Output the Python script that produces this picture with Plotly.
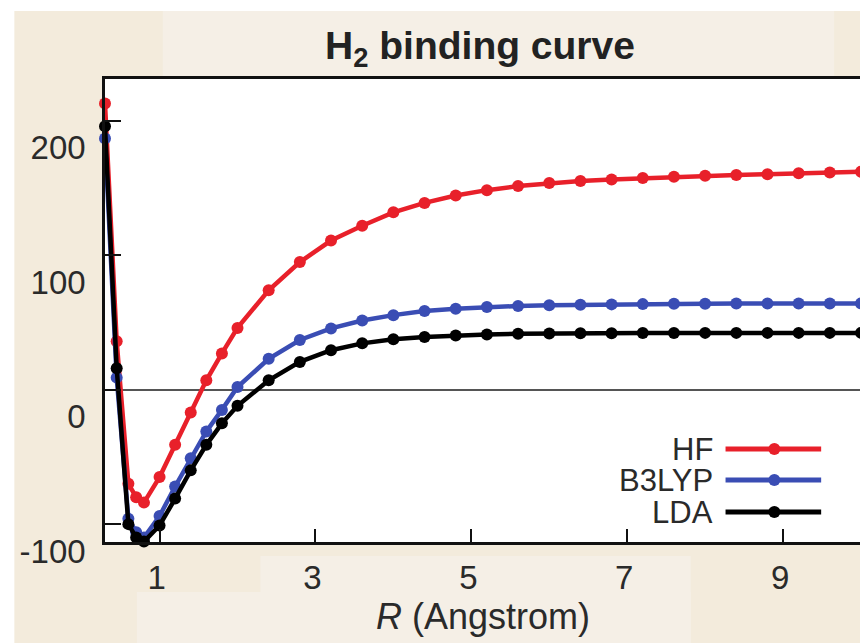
import plotly.graph_objects as go

# ---------------- data ----------------
R = [0.3, 0.45, 0.6, 0.7, 0.8, 1.0, 1.2, 1.4, 1.6, 1.8, 2.0, 2.4, 2.8, 3.2, 3.6,
     4.0, 4.4, 4.8, 5.2, 5.6, 6.0, 6.4, 6.8, 7.2, 7.6, 8.0, 8.4, 8.8, 9.2, 9.6, 10.0]

HF = [213, 36, -70, -80, -84, -65, -41, -17, 7, 27, 46, 74, 95, 111, 122,
      132, 139, 144.5, 148.5, 151.5, 153.8, 155.3, 156.5, 157.5, 158.4, 159.2,
      159.8, 160.4, 161.0, 161.6, 162.2]

B3LYP = [187, 9, -96, -106, -110, -94, -72, -51, -31, -15, 2, 23, 37, 45.6, 51.5,
         55.5, 58.5, 60.3, 61.5, 62.3, 62.8, 63.2, 63.5, 63.7, 63.9, 64.0,
         64.1, 64.2, 64.2, 64.2, 64.2]

LDA = [196, 16, -100, -110, -113, -101, -81, -60, -41, -25, -12, 7, 20.7, 29.4, 34.5,
       37.5, 39.3, 40.4, 41.1, 41.6, 41.9, 42.0, 42.1, 42.2, 42.2, 42.3,
       42.3, 42.3, 42.3, 42.3, 42.3]

SERIES_NAMES = ["HF", "B3LYP", "LDA"]
SERIES_VALUES = [HF, B3LYP, LDA]
SERIES_COLORS = ["#E8202A", "#3A4DB4", "#000000"]

X_TICKS = [1, 3, 5, 7, 9]
Y_TICKS = [-100, 0, 100, 200]

TITLE = "<b>H<sub>2</sub> binding curve</b>"
X_TITLE = "<i>R</i> (Angstrom)"

# ---------------- figure ----------------
W, H = 868, 643
OFF = 8                      # page body margin: the figure starts 8px in
SL, SR, ST, SB = 104, 863, 79, 542   # plot area on screen
PW, PH = SR - SL, SB - ST
L, T = SL - OFF, ST - OFF
RM, B = W - (SR - OFF), H - (SB - OFF)

def px_x(px):
    return (px - SL) / PW

def px_y(py):
    return (SB - py) / PH

FONT = "Liberation Sans, Arial, Helvetica, sans-serif"
BEIGE = "#F3EBDC"
LIGHT = "#F5EFE6"

fig = go.Figure()
for name, vals, col in zip(SERIES_NAMES, SERIES_VALUES, SERIES_COLORS):
    fig.add_trace(go.Scatter(
        x=R, y=vals, name=name, mode="lines+markers",
        line=dict(color=col, width=4.5),
        marker=dict(color=col, size=12),
        cliponaxis=False,
    ))

shapes = []
# thin white border at top / left of the beige background
shapes.append(dict(type="rect", xref="paper", yref="paper",
                   x0=px_x(0), x1=px_x(13), y0=px_y(H + 20), y1=px_y(0),
                   fillcolor="white", line=dict(width=0), layer="below"))
shapes.append(dict(type="rect", xref="paper", yref="paper",
                   x0=px_x(0), x1=px_x(W + 20), y0=px_y(11), y1=px_y(0),
                   fillcolor="white", line=dict(width=0), layer="below"))
# lighter patches behind title and x-axis title
shapes.append(dict(type="rect", xref="paper", yref="paper",
                   x0=px_x(162), x1=px_x(836), y0=px_y(76), y1=px_y(11),
                   fillcolor=LIGHT, line=dict(width=0), layer="below"))
shapes.append(dict(type="rect", xref="paper", yref="paper",
                   x0=px_x(260), x1=px_x(692), y0=px_y(660), y1=px_y(556),
                   fillcolor=LIGHT, line=dict(width=0), layer="below"))
shapes.append(dict(type="rect", xref="paper", yref="paper",
                   x0=px_x(136), x1=px_x(692), y0=px_y(660), y1=px_y(592),
                   fillcolor=LIGHT, line=dict(width=0), layer="below"))

# manual legend: label on the left, line sample with marker on the right
annotations = []
leg_rows = [449, 480, 512]
for name, col, ry in zip(SERIES_NAMES, SERIES_COLORS, leg_rows):
    annotations.append(dict(text=name, xref="paper", yref="paper",
                            x=px_x(716), y=px_y(ry), xanchor="right", yanchor="middle",
                            showarrow=False, font=dict(size=31, color="#2a2a2a", family=FONT)))
    shapes.append(dict(type="line", xref="paper", yref="paper",
                       x0=px_x(727), x1=px_x(823), y0=px_y(ry), y1=px_y(ry),
                       line=dict(color=col, width=5)))
    shapes.append(dict(type="circle", xref="paper", yref="paper",
                       xsizemode="pixel", ysizemode="pixel",
                       xanchor=px_x(776), yanchor=px_y(ry),
                       x0=-6, x1=6, y0=-6, y1=6,
                       fillcolor=col, line=dict(width=0)))

fig.update_layout(
    width=W, height=H,
    margin=dict(l=L, r=RM, t=T, b=B, pad=0),
    paper_bgcolor=BEIGE, plot_bgcolor="white",
    showlegend=False,
    font=dict(family=FONT, color="#2a2a2a"),
    title=dict(text=TITLE, xref="container", x=(480 - OFF) / W, xanchor="center",
               yref="container", y=1 - (45 - OFF) / H, yanchor="middle",
               font=dict(size=39, color="#222222", family=FONT)),
    shapes=shapes,
    annotations=annotations,
)

fig.update_xaxes(
    range=[0.3, 10.0], tickvals=X_TICKS, ticktext=[str(v) for v in X_TICKS],
    ticks="inside", ticklen=13, tickwidth=2, tickcolor="#111",
    showline=True, linecolor="#111", linewidth=2.5, mirror=True,
    showgrid=False, zeroline=False,
    tickfont=dict(size=33, color="#2a2a2a"), ticklabelstandoff=5, ticklabelshift=-3,
    title=dict(text=X_TITLE, font=dict(size=36, color="#2a2a2a"), standoff=4),
)
fig.update_yaxes(
    range=[-113.3, 231.2], tickvals=Y_TICKS, ticktext=[str(v) for v in Y_TICKS],
    ticks="inside", ticklen=16, tickwidth=2, tickcolor="#111",
    showline=True, linecolor="#111", linewidth=2.5, mirror=True,
    showgrid=False, zeroline=True, zerolinecolor="#555", zerolinewidth=2,
    tickfont=dict(size=33, color="#2a2a2a"), ticklabelstandoff=10, ticklabelshift=27,
)

fig.write_html("out.html")
